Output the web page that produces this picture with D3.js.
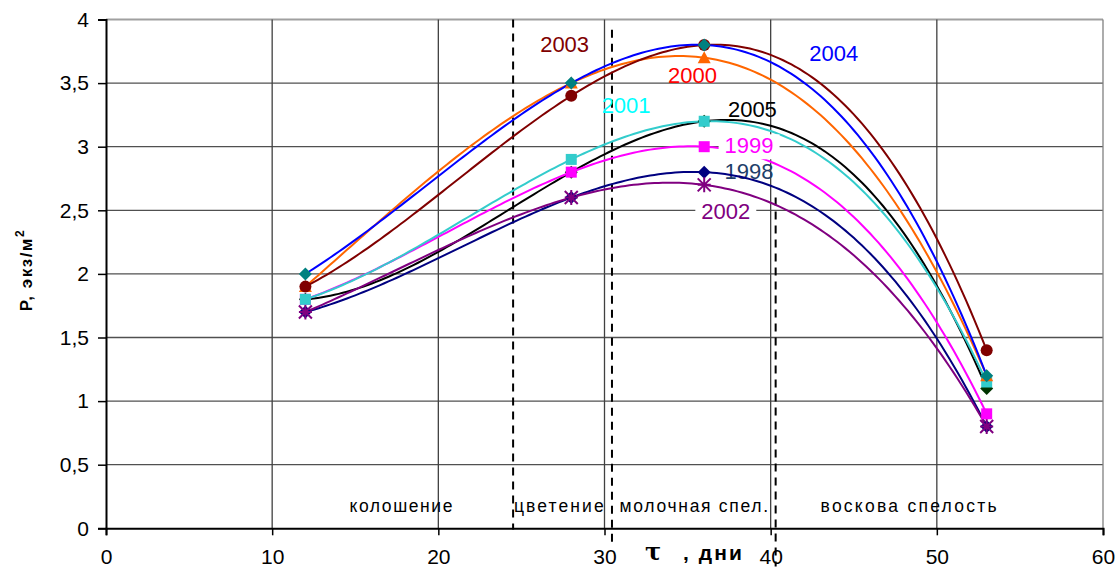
<!DOCTYPE html>
<html><head><meta charset="utf-8">
<script src="https://cdn.jsdelivr.net/npm/d3@7/dist/d3.min.js"></script>
<style>
body{margin:0;background:#fff;}
svg{display:block;font-family:"Liberation Sans",Arial,sans-serif;}
</style></head>
<body>
<svg id="chart" width="1120" height="567"></svg>
<script>
// ---- data ----
const days = [12, 28, 36, 53];
const seriesNames = ["2005", "1998", "2002", "1999", "2001", "2000", "2003", "2004"];
const v2005 = [1.8, 2.8, 3.2, 1.1];
const v1998 = [1.7, 2.6, 2.8, 0.8];
const v2002 = [1.7, 2.6, 2.7, 0.8];
const v1999 = [1.8, 2.8, 3.0, 0.9];
const v2001 = [1.8, 2.9, 3.2, 1.15];
const v2000 = [1.9, 3.5, 3.7, 1.2];
const v2003 = [1.9, 3.4, 3.8, 1.4];
const v2004 = [2.0, 3.5, 3.8, 1.2];
const xTicks = [0, 10, 20, 30, 40, 50, 60];
const yTicks = [0, 0.5, 1, 1.5, 2, 2.5, 3, 3.5, 4];
const phaseNames = ["колошение", "цветение", "молочная спел.", "воскова спелость"];
const phaseBounds = [24.5, 30.45, 40.3];
const yAxisTitle = "Р, экз/м";
const xAxisTitle = ", дни";

const values = {"2005": v2005, "1998": v1998, "2002": v2002, "1999": v1999,
                "2001": v2001, "2000": v2000, "2003": v2003, "2004": v2004};

// ---- styles ----
const style = {
  "2005": {line: "#000000", marker: "diamond", mfill: "#003300", label: "#000000"},
  "1998": {line: "#000080", marker: "diamond", mfill: "#000080", label: "#1F3F6A"},
  "2002": {line: "#800080", marker: "asterisk", mfill: "#800080", label: "#800080"},
  "1999": {line: "#FF00FF", marker: "square", mfill: "#FF00FF", label: "#FF00FF"},
  "2001": {line: "#33CCCC", marker: "square", mfill: "#33CCCC", label: "#00FFFF"},
  "2000": {line: "#FF6600", marker: "triangle", mfill: "#FF6600", label: "#FF0000"},
  "2003": {line: "#800000", marker: "circle", mfill: "#800000", label: "#800000"},
  "2004": {line: "#0000FF", marker: "diamond", mfill: "#008080", label: "#0000FF"}
};
// label anchors in data units (x center, baseline value)
const labelPos = {
  "2003": [27.6, 3.745], "2004": [43.8, 3.674], "2000": [35.3, 3.50],
  "2001": [31.3, 3.263], "2005": [38.9, 3.236], "1999": [38.7, 2.948],
  "1998": [38.7, 2.746], "2002": [37.3, 2.43]
};

const svg = d3.select("#chart");
const x = d3.scaleLinear().domain([0, 60]).range([106, 1103]);
const y = d3.scaleLinear().domain([0, 4]).range([528.3, 19.5]);

// gridlines
svg.append("g").selectAll("line").data(yTicks.filter(d => d > 0)).join("line")
  .attr("x1", x(0)).attr("x2", x(60))
  .attr("y1", d => y(d)).attr("y2", d => y(d))
  .attr("stroke", d => d === 4 ? "#a0a0a0" : "#505050")
  .attr("stroke-width", d => d === 4 ? 2 : 1.3);
svg.append("g").selectAll("line").data(xTicks.filter(d => d > 0)).join("line")
  .attr("x1", d => x(d)).attr("x2", d => x(d))
  .attr("y1", y(4)).attr("y2", y(0))
  .attr("stroke", d => d === 60 ? "#808080" : "#404040")
  .attr("stroke-width", 1.3);

// axes
const fmt = d => String(d).replace(".", ",");
const xAxis = svg.append("g").attr("transform", `translate(0,${y(0)})`)
  .call(d3.axisBottom(x).tickValues(xTicks).tickFormat(fmt).tickSizeOuter(0).tickSize(7).tickPadding(14));
const yAxis = svg.append("g").attr("transform", `translate(${x(0)},0)`)
  .call(d3.axisLeft(y).tickValues(yTicks).tickFormat(fmt).tickSizeOuter(0).tickSize(8).tickPadding(9));
[xAxis, yAxis].forEach(g => {
  g.select(".domain").attr("stroke", "#000").attr("stroke-width", 2);
  g.selectAll(".tick line").attr("stroke", "#000").attr("stroke-width", 1.5);
  g.selectAll("text").attr("font-size", 21).attr("fill", "#000")
    .attr("font-family", "'Liberation Sans',Arial,sans-serif");
});
xAxis.selectAll("text").attr("dy", "0.71em");

// phase boundary dashed lines
const dashExt = [[4.0, -0.01], [3.92, -0.13], [2.6, -0.3]];
svg.append("g").selectAll("line").data(phaseBounds).join("line")
  .attr("x1", d => x(d)).attr("x2", d => x(d))
  .attr("y1", (d, i) => y(dashExt[i][0])).attr("y2", (d, i) => y(dashExt[i][1]))
  .attr("stroke", "#000").attr("stroke-width", 2).attr("stroke-dasharray", "8,6");

// phase labels
const phaseSpan = [[14.65, 20.85], [24.55, 29.95], [30.9, 39.85], [43.0, 53.6]];
svg.append("g").selectAll("text").data(phaseNames).join("text")
  .attr("x", (d, i) => x(phaseSpan[i][0]))
  .attr("y", 512)
  .attr("font-size", 17.5).attr("fill", "#000")
  .attr("textLength", (d, i) => x(phaseSpan[i][1]) - x(phaseSpan[i][0]))
  .attr("lengthAdjust", "spacing")
  .text(d => d);

// axis titles
const yt = svg.append("text")
  .attr("transform", "translate(32,270) rotate(-90)")
  .attr("text-anchor", "middle").attr("font-weight", "bold").attr("font-size", 17)
  .attr("letter-spacing", 1.5);
yt.append("tspan").text(yAxisTitle);
yt.append("tspan").attr("font-size", 12).attr("dy", -8).text("2");

svg.append("text").attr("x", 645).attr("y", 560)
  .attr("font-weight", "bold").attr("font-size", 24)
  .attr("font-family", "'DejaVu Serif',serif").text("τ");
svg.append("text").attr("x", 683).attr("y", 560)
  .attr("font-weight", "bold").attr("font-size", 21)
  .attr("textLength", 59).attr("lengthAdjust", "spacing").text(xAxisTitle);

// label helper
function addLabel(name, withBg) {
  const p = labelPos[name];
  const t = svg.append("text").attr("x", x(p[0])).attr("y", y(p[1]))
    .attr("text-anchor", "middle").attr("font-size", 22)
    .attr("fill", style[name].label).text(name);
  if (withBg) {
    const b = t.node().getBBox();
    svg.insert("rect", () => t.node())
      .attr("x", b.x - 6).attr("y", b.y + 1).attr("width", b.width + 12).attr("height", b.height)
      .attr("fill", "#fff");
  }
}
addLabel("1998", false); // drawn behind the lines

// cubic trendlines (through the 4 points)
function cubicAt(xs, ys, t) {
  let s = 0;
  for (let i = 0; i < xs.length; i++) {
    let L = 1;
    for (let j = 0; j < xs.length; j++) if (j !== i) L *= (t - xs[j]) / (xs[i] - xs[j]);
    s += ys[i] * L;
  }
  return s;
}
const line = d3.line().x(d => x(d[0])).y(d => y(d[1]));
const samples = d3.range(days[0], days[days.length - 1] + 0.001, 0.25);
const gLines = svg.append("g");
seriesNames.forEach(name => {
  const pts = samples.map(t => [t, cubicAt(days, values[name], t)]);
  gLines.append("path").attr("d", line(pts)).attr("fill", "none")
    .attr("stroke", style[name].line).attr("stroke-width", 2);
});

// markers
const gM = svg.append("g");
seriesNames.forEach(name => {
  const st = style[name];
  days.forEach((dx, i) => {
    const cx = x(dx), cy = y(values[name][i]);
    if (st.marker === "diamond") {
      gM.append("path").attr("d", `M${cx},${cy-6.5}L${cx+6.5},${cy}L${cx},${cy+6.5}L${cx-6.5},${cy}Z`).attr("fill", st.mfill);
    } else if (st.marker === "square") {
      gM.append("rect").attr("x", cx - 5.5).attr("y", cy - 5.5).attr("width", 11).attr("height", 11).attr("fill", st.mfill);
    } else if (st.marker === "circle") {
      gM.append("circle").attr("cx", cx).attr("cy", cy).attr("r", 6).attr("fill", st.mfill);
    } else if (st.marker === "triangle") {
      gM.append("path").attr("d", `M${cx},${cy-6.5}L${cx+6.5},${cy+5.5}L${cx-6.5},${cy+5.5}Z`).attr("fill", st.mfill);
    } else if (st.marker === "asterisk") {
      const r = 6.5;
      gM.append("path")
        .attr("d", `M${cx-r},${cy-r}L${cx+r},${cy+r}M${cx-r},${cy+r}L${cx+r},${cy-r}M${cx},${cy-r-1}L${cx},${cy+r+1}M${cx-r},${cy}L${cx+r},${cy}`)
        .attr("stroke", st.mfill).attr("stroke-width", 2).attr("fill", "none");
    }
  });
});

// other labels
["2003", "2004", "2000", "2001", "2005"].forEach(n => addLabel(n, false));
addLabel("1999", true);
addLabel("2002", true);
</script>
</body></html>
